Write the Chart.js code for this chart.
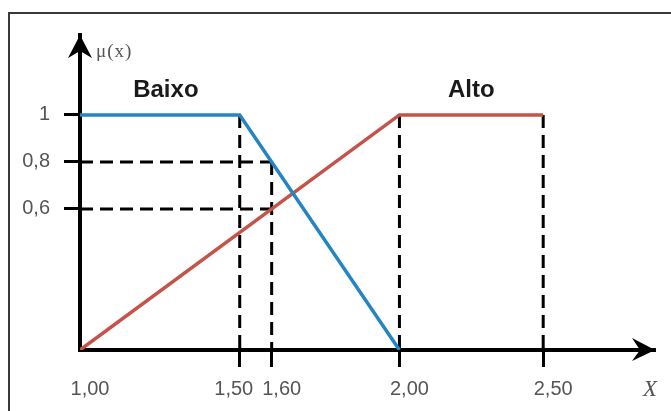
<!DOCTYPE html>
<html lang="pt">
<head>
    <meta charset="UTF-8">
    <title>Funções de pertinência Baixo / Alto</title>
    <script src="https://cdn.jsdelivr.net/npm/chart.js"></script>
    <style>
        body { margin: 0; background: #fff; }
        .wrap { position: relative; width: 671px; height: 411px; overflow: hidden; }
        .frame { position: absolute; left: 8px; top: 12px; width: 700px; height: 420px;
                 border-left: 2px solid #3a3a3a; border-top: 2px solid #3a3a3a; }
    </style>
</head>
<body>
<div class="wrap">
    <div class="frame"></div>
    <canvas id="fuzzyChart"></canvas>
</div>

<script>
    // valores
    const xTicks = [1.0, 1.5, 1.6, 2.0, 2.5];
    const yTicks = [0.6, 0.8, 1];

    const baixoX = [1.0, 1.5, 2.0];
    const baixoY = [1, 1, 0];
    const altoX = [1.0, 2.0, 2.5];
    const altoY = [0, 1, 1];

    // linhas tracejadas de leitura
    const guideHX = [1.6, 1.6];
    const guideHY = [0.8, 0.6];
    const guideVX = [1.5, 1.6, 2.0, 2.5];
    const guideVY = [1, 0.8, 1, 1];

    const sansFont = '"Liberation Sans", Arial, sans-serif';
    const serifFont = '"Liberation Serif", "Times New Roman", serif';

    // no original o trecho 2,00 - 2,50 está um pouco comprimido
    class StretchScale extends Chart.LinearScale {
        getPixelForValue(value) {
            const v = value > 2 ? 2 + (value - 2) * 0.9 : value;
            return super.getPixelForValue(v);
        }
    }
    StretchScale.id = 'stretch';
    Chart.register(StretchScale);

    const toPoints = (xs, ys) => xs.map((x, i) => ({x: x, y: ys[i]}));

    const dashed = {
        borderColor: '#000',
        borderWidth: 3,
        borderDash: [13, 7],
        pointRadius: 0,
        fill: false
    };

    const datasets = [
        {
            label: 'Baixo',
            data: toPoints(baixoX, baixoY),
            borderColor: '#2584c4',
            borderWidth: 3.5,
            pointRadius: 0
        },
        {
            label: 'Alto',
            data: toPoints(altoX, altoY),
            borderColor: '#c4534a',
            borderWidth: 3.5,
            pointRadius: 0
        }
    ];
    guideHX.forEach((x, i) => {
        datasets.push(Object.assign({label: '', data: [{x: xTicks[0], y: guideHY[i]}, {x: x, y: guideHY[i]}]}, dashed));
    });
    guideVX.forEach((x, i) => {
        datasets.push(Object.assign({label: '', data: [{x: x, y: guideVY[i]}, {x: x, y: 0}]}, dashed));
    });

    const drawings = {
        id: 'drawings',
        afterDraw(chart) {
            const {ctx, chartArea: area, scales: {x, y}} = chart;
            ctx.save();

            // pontas das setas
            ctx.fillStyle = '#000';
            ctx.beginPath();
            ctx.moveTo(area.left, area.top);
            ctx.lineTo(area.left - 12, area.top + 23);
            ctx.lineTo(area.left, area.top + 16);
            ctx.lineTo(area.left + 12, area.top + 23);
            ctx.closePath();
            ctx.fill();

            ctx.beginPath();
            ctx.moveTo(area.right, area.bottom);
            ctx.lineTo(area.right - 23, area.bottom - 12);
            ctx.lineTo(area.right - 15, area.bottom);
            ctx.lineTo(area.right - 23, area.bottom + 11);
            ctx.closePath();
            ctx.fill();

            // rótulos do eixo X
            ctx.font = '20px ' + sansFont;
            ctx.fillStyle = '#555';
            ctx.textAlign = 'center';
            ctx.textBaseline = 'middle';
            xTicks.forEach(v => {
                const shift = v === 1.5 ? -6 : 10;
                ctx.fillText(v.toFixed(2).replace('.', ','), x.getPixelForValue(v) + shift, area.bottom + 39);
            });

            // nomes dos conjuntos
            ctx.font = 'bold 24px ' + sansFont;
            ctx.fillStyle = '#1a1a1a';
            const top = y.getPixelForValue(1) - 25;
            ctx.fillText(datasets[0].label, (x.getPixelForValue(baixoX[0]) + x.getPixelForValue(baixoX[1])) / 2 + 6, top);
            ctx.fillText(datasets[1].label, (x.getPixelForValue(altoX[1]) + x.getPixelForValue(altoX[2])) / 2, top);

            // títulos dos eixos
            ctx.fillStyle = '#555';
            ctx.font = '19px ' + serifFont;
            ctx.textAlign = 'left';
            ctx.letterSpacing = '1px';
            ctx.fillText('μ(x)', area.left + 16, area.top + 17);
            ctx.letterSpacing = '0px';
            ctx.font = 'italic 23px ' + serifFont;
            ctx.textAlign = 'center';
            ctx.fillText('X', area.right - 5, area.bottom + 40);

            ctx.restore();
        }
    };

    new Chart(document.getElementById('fuzzyChart'), {
        type: 'line',
        data: {datasets: datasets},
        options: {
            responsive: true,
            maintainAspectRatio: false,
            animation: false,
            events: [],
            layout: {padding: {top: 35, right: 16, left: 8, bottom: 0}},
            plugins: {
                legend: {display: false},
                tooltip: {enabled: false}
            },
            scales: {
                x: {
                    type: 'stretch',
                    min: 1,
                    max: 2.8,
                    afterBuildTicks: s => { s.ticks = xTicks.map(v => ({value: v})); },
                    afterFit: s => { s.height = 61; },
                    ticks: {display: false},
                    grid: {
                        drawOnChartArea: false,
                        drawTicks: true,
                        tickLength: 17,
                        tickWidth: 3,
                        tickColor: c => (c.tick && c.tick.value === 1) ? 'rgba(0,0,0,0)' : '#000'
                    },
                    border: {display: true, color: '#000', width: 4}
                },
                y: {
                    min: 0,
                    max: 1.34,
                    afterBuildTicks: s => { s.ticks = yTicks.map(v => ({value: v})); },
                    afterFit: s => { s.width = 72; },
                    ticks: {
                        padding: 14,
                        color: '#555',
                        font: {family: sansFont, size: 20},
                        callback: v => String(v).replace('.', ',')
                    },
                    grid: {
                        drawOnChartArea: false,
                        drawTicks: true,
                        tickLength: 16,
                        tickWidth: 3,
                        tickColor: '#000'
                    },
                    border: {display: true, color: '#000', width: 4}
                }
            }
        },
        plugins: [drawings]
    });
</script>
</body>
</html>
